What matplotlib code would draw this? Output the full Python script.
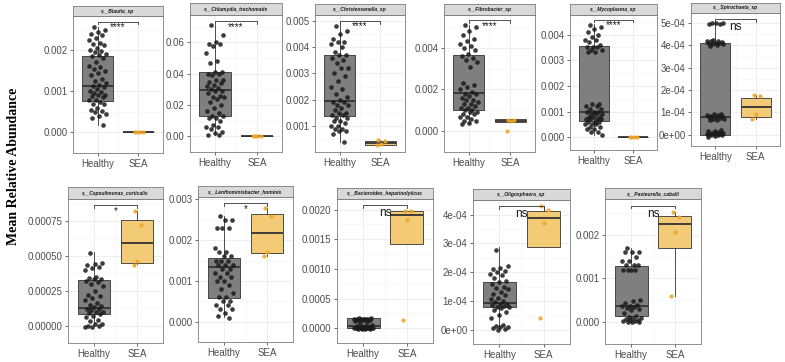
import matplotlib.pyplot as plt
import numpy as np

plt.rcParams['font.family'] = ['Liberation Sans', 'DejaVu Sans']

W, H = 785, 362
groups = ['Healthy', 'SEA']

species = ['s__Blautia_sp', 's__Chlamydia_trachomatis', 's__Christensenella_sp',
           's__Fibrobacter_sp', 's__Mycoplasma_sp', 's__Spirochaeta_sp',
           's__Capsulimonas_corticalis', 's__Lenthominisbacter_hominis',
           's__Bacteroides_heparinolyticus', 's__Oligosphaera_sp', 's__Pasteurella_caballi']
signif = ['****', '****', '****', '****', '****', 'ns', '*', '*', 'ns', 'ns', 'ns']
bracket_y = [0.00269, 0.0736, 0.0050, 0.00533, 0.00458, 5.18e-4,
             0.00086, 0.00291, 0.00207, 4.29e-4, 0.00267]

# jittered points
blautia_healthy = [0.00257, 0.00250, 0.00243, 0.00240, 0.00236, 0.00230, 0.00225, 0.00218, 0.00215,
                   0.00212, 0.00205, 0.00200, 0.00198, 0.00195, 0.00190, 0.00188, 0.00185, 0.00180,
                   0.00170, 0.00162, 0.00158, 0.00155, 0.00150, 0.00145, 0.00140, 0.00130, 0.00125,
                   0.00120, 0.00115, 0.00112, 0.00110, 0.00105, 0.00100, 0.00098, 0.00095, 0.00092,
                   0.00090, 0.00088, 0.00085, 0.00080, 0.00078, 0.00075, 0.00070, 0.00068, 0.00060,
                   0.00055, 0.00052, 0.00050, 0.00045, 0.00040, 0.00035, 0.00017]
blautia_sea = [0.0, 0.0, 0.0, 0.0]
chlamydia_healthy = [0.071, 0.065, 0.060, 0.059, 0.059, 0.058, 0.053, 0.048, 0.047, 0.041, 0.041, 0.040,
                     0.040, 0.039, 0.036, 0.036, 0.035, 0.034, 0.033, 0.032, 0.031, 0.030, 0.029, 0.029,
                     0.028, 0.026, 0.025, 0.025, 0.024, 0.022, 0.020, 0.018, 0.016, 0.015, 0.013, 0.013,
                     0.012, 0.012, 0.010, 0.007, 0.006, 0.006, 0.005, 0.003, 0.002, 0.001, 0.001]
chlamydia_sea = [0.0003, 0.0003, 0.0003, 0.0003]
christensenella_healthy = [0.0048, 0.0046, 0.0045, 0.0043, 0.0042, 0.0042, 0.0041, 0.0040, 0.0038, 0.0037,
                           0.0037, 0.0036, 0.0035, 0.0034, 0.0032, 0.0032, 0.0030, 0.0029, 0.0027, 0.0025,
                           0.0024, 0.0022, 0.0021, 0.0020, 0.0019, 0.0019, 0.0018, 0.0018, 0.0017, 0.0016,
                           0.0015, 0.0015, 0.0014, 0.0014, 0.0013, 0.0013, 0.0012, 0.0012, 0.0011, 0.0010,
                           0.0010, 0.0009, 0.0009, 0.0008, 0.0008, 0.0007, 0.0004]
christensenella_sea = [0.00047, 0.00042, 0.00033, 0.00028]
fibrobacter_healthy = [0.0051, 0.0050, 0.0048, 0.0046, 0.0044, 0.0043, 0.0042, 0.0041, 0.0040, 0.0039,
                       0.0037, 0.0036, 0.0035, 0.0034, 0.0033, 0.0031, 0.0023, 0.0022, 0.0021, 0.0020,
                       0.0019, 0.0018, 0.0018, 0.0017, 0.0016, 0.0015, 0.0015, 0.0014, 0.0013, 0.0013,
                       0.0012, 0.0011, 0.0011, 0.0010, 0.0010, 0.0009, 0.0009, 0.0008, 0.0008, 0.0007,
                       0.0007, 0.0006, 0.0005, 0.0005, 0.0004, 0.00035]
fibrobacter_sea = [0.00055, 0.00055, 0.00050, 0.00002]
mycoplasma_healthy = [0.00436, 0.0043, 0.0042, 0.0041, 0.0040, 0.0039, 0.0038, 0.0038, 0.0037, 0.0036,
                      0.0035, 0.0035, 0.0035, 0.0034, 0.0034, 0.0033, 0.0033,
                      0.0013, 0.0013, 0.0012, 0.0012, 0.0011, 0.0011, 0.0010, 0.0010, 0.0010, 0.0009,
                      0.0009, 0.0009, 0.0008, 0.0008, 0.0008, 0.0007, 0.0007, 0.0007, 0.0007, 0.0006,
                      0.0006, 0.0006, 0.0005, 0.0005, 0.0005, 0.0004, 0.0004, 0.0003, 0.0003, 0.0002,
                      0.0002, 0.0001]
mycoplasma_sea = [0.0, 0.0, 0.0, 0.0]
spirochaeta_healthy = [5.0e-4, 5.0e-4, 5.0e-4, 4.98e-4, 4.96e-4,
                       4.22e-4, 4.2e-4, 4.2e-4, 4.18e-4, 4.15e-4, 4.12e-4, 4.1e-4, 4.1e-4, 4.08e-4,
                       4.05e-4, 4.0e-4, 3.98e-4,
                       0.95e-4, 0.92e-4, 0.9e-4, 0.88e-4, 0.85e-4, 0.82e-4, 0.8e-4, 0.78e-4, 0.75e-4,
                       0.72e-4, 0.7e-4, 0.68e-4, 0.65e-4,
                       0.2e-4, 0.18e-4, 0.15e-4, 0.12e-4, 0.1e-4, 0.08e-4, 0.06e-4, 0.05e-4, 0.04e-4,
                       0.03e-4, 0.02e-4, 0.01e-4, 0.0, 0.0, -0.05e-4, -0.1e-4]
spirochaeta_sea = [1.78e-4, 1.72e-4, 0.95e-4, 0.72e-4]
capsulimonas_healthy = [0.00052, 0.00045, 0.00044, 0.00043, 0.00042, 0.00041, 0.00040, 0.00035, 0.00034,
                        0.00033, 0.00033, 0.00032, 0.00031, 0.00030, 0.00028, 0.00025, 0.00022, 0.00021,
                        0.00020, 0.00018, 0.00016, 0.00015, 0.00014, 0.00013, 0.00012, 0.00012, 0.00011,
                        0.00010, 0.00010, 0.00009, 0.00008, 0.00007, 0.00006, 0.00004, 0.00003, 0.00001,
                        0.00001, 0.0, 0.0, -0.00001, -0.00001]
capsulimonas_sea = [0.00082, 0.00072, 0.00046, 0.000435]
lenthominisbacter_healthy = [0.0026, 0.0025, 0.0025, 0.0023, 0.0023, 0.0023, 0.0018, 0.0017, 0.0017, 0.0016,
                             0.0016, 0.0015, 0.0015, 0.0015, 0.0014, 0.0014, 0.0014, 0.0013, 0.0013, 0.0012,
                             0.0012, 0.0011, 0.0011, 0.0010, 0.0010, 0.0009, 0.0008, 0.0007, 0.0006, 0.0006,
                             0.0005, 0.0005, 0.0004, 0.0004, 0.0003, 0.0003, 0.0002, 0.00015, 0.0001]
lenthominisbacter_sea = [0.0028, 0.0026, 0.0017, 0.0016]
bacteroides_healthy = [0.00017, 0.00017, 0.00016, 0.00016, 0.00016, 0.00015, 0.00015, 0.00015, 0.00014,
                       0.00014, 0.00013, 0.00012, 0.00010, 0.00008, 0.00005, 0.00004, 0.00003, 0.00002,
                       0.00002, 0.00001, 0.00001, 0.00001, 0.0, 0.0, 0.0, 0.0, 0.0, 0.0, -0.00001,
                       -0.00001, -0.00001, -0.00002]
bacteroides_sea = [0.00198, 0.00197, 0.00182, 0.00013]
oligosphaera_healthy = [2.76e-4, 2.2e-4, 2.15e-4, 2.1e-4, 2.05e-4, 2.0e-4, 1.95e-4, 1.9e-4, 1.8e-4, 1.7e-4,
                        1.65e-4, 1.6e-4, 1.5e-4, 1.45e-4, 1.4e-4, 1.3e-4, 1.25e-4, 1.2e-4, 1.1e-4, 1.05e-4,
                        1.0e-4, 0.95e-4, 0.9e-4, 0.88e-4, 0.85e-4, 0.82e-4, 0.8e-4, 0.8e-4, 0.75e-4,
                        0.7e-4, 0.6e-4, 0.5e-4, 0.4e-4, 0.15e-4, 0.12e-4, 0.1e-4, 0.08e-4, 0.05e-4,
                        0.02e-4, 0.0]
oligosphaera_sea = [4.3e-4, 4.17e-4, 3.7e-4, 0.4e-4]
pasteurella_healthy = [0.0017, 0.0016, 0.0016, 0.0016, 0.0015, 0.0014, 0.0014, 0.0013, 0.0013, 0.0013,
                       0.0012, 0.0012, 0.0012, 0.0012, 0.00050, 0.00048, 0.00045, 0.00040, 0.00038,
                       0.00036, 0.00035, 0.00033, 0.00030, 0.00028, 0.00020, 0.00015, 0.00012, 0.00010,
                       0.00010, 0.00008, 0.00006, 0.00005, 0.00003, 0.00002, 0.00001, 0.0, 0.0]
pasteurella_sea = [0.00253, 0.0024, 0.00207, 0.00061]

# box stats: [whisker low, q1, median, q3, whisker high]
box_healthy = [[0.00017, 0.00077, 0.001135, 0.001855, 0.00257],
               [0.0006, 0.0129, 0.0294, 0.0408, 0.071],
               [0.00039, 0.00137, 0.00195, 0.00369, 0.0049],
               [0.00036, 0.0010, 0.00183, 0.00367, 0.0051],
               [0.0001, 0.00064, 0.00097, 0.00356, 0.0044],
               [0.0, 0.0, 0.8e-4, 4.09e-4, 5.0e-4],
               [0.0, 0.00008, 0.000125, 0.000328, 0.000523],
               [0.00011, 0.00059, 0.00135, 0.00157, 0.0026],
               [0.0, 0.0, 0.00003, 0.000175, 0.00018],
               [0.05e-4, 0.8e-4, 0.91e-4, 1.64e-4, 2.86e-4],
               [0.0, 0.00013, 0.00037, 0.00129, 0.0017]]
box_sea = [[0.0, 0.0, 0.0, 0.0, 0.0],
           [0.0003, 0.0003, 0.0003, 0.0003, 0.0003],
           [0.00028, 0.00029, 0.00035, 0.00041, 0.00047],
           [0.00043, 0.00043, 0.0005, 0.0006, 0.0006],
           [0.0, 0.0, 0.0, 0.0, 0.0],
           [0.72e-4, 0.80e-4, 1.23e-4, 1.64e-4, 1.78e-4],
           [0.000436, 0.000447, 0.000592, 0.000757, 0.00082],
           [0.0016, 0.00169, 0.00217, 0.00265, 0.00279],
           [0.00142, 0.00142, 0.00191, 0.00197, 0.00198],
           [2.86e-4, 2.86e-4, 3.88e-4, 4.11e-4, 4.3e-4],
           [0.00061, 0.0017, 0.00224, 0.00244, 0.00253]]

healthy_pts = [blautia_healthy, chlamydia_healthy, christensenella_healthy, fibrobacter_healthy,
               mycoplasma_healthy, spirochaeta_healthy, capsulimonas_healthy, lenthominisbacter_healthy,
               bacteroides_healthy, oligosphaera_healthy, pasteurella_healthy]
sea_pts = [blautia_sea, chlamydia_sea, christensenella_sea, fibrobacter_sea, mycoplasma_sea,
           spirochaeta_sea, capsulimonas_sea, lenthominisbacter_sea, bacteroides_sea,
           oligosphaera_sea, pasteurella_sea]

yticks = [[0.0, 0.001, 0.002], [0.0, 0.02, 0.04, 0.06], [0.001, 0.002, 0.003, 0.004, 0.005],
          [0.0, 0.002, 0.004], [0.0, 0.001, 0.002, 0.003, 0.004],
          [0.0, 1e-4, 2e-4, 3e-4, 4e-4, 5e-4], [0.0, 0.00025, 0.0005, 0.00075],
          [0.0, 0.001, 0.002, 0.003], [0.0, 0.0005, 0.001, 0.0015, 0.002],
          [0.0, 1e-4, 2e-4, 3e-4, 4e-4], [0.0, 0.001, 0.002]]
ytick_labels = [['0.000', '0.001', '0.002'], ['0.00', '0.02', '0.04', '0.06'],
                ['0.001', '0.002', '0.003', '0.004', '0.005'], ['0.000', '0.002', '0.004'],
                ['0.000', '0.001', '0.002', '0.003', '0.004'],
                ['0e+00', '1e-04', '2e-04', '3e-04', '4e-04', '5e-04'],
                ['0.00000', '0.00025', '0.00050', '0.00075'], ['0.000', '0.001', '0.002', '0.003'],
                ['0.0000', '0.0005', '0.0010', '0.0015', '0.0020'],
                ['0e+00', '1e-04', '2e-04', '3e-04', '4e-04'], ['0.000', '0.001', '0.002']]
ylims = [(-0.00015, 0.00283), (-0.0042, 0.0775), (0.00001, 0.00522), (-0.0003, 0.00557),
         (-0.00022, 0.00476), (-0.38e-4, 5.45e-4), (-0.000058, 0.000904), (-0.00002, 0.00306),
         (-0.000116, 0.002177), (-0.3e-4, 4.51e-4), (-0.000137, 0.00282)]

# panel layout in pixels: left, right, panel top, panel bottom, strip top
layout = [(73, 163, 16, 153, 6), (190, 282, 15, 152, 3), (315, 405, 15, 152, 4),
          (444, 535, 15, 152, 4), (570, 657, 15, 150, 4), (691, 780, 13, 146, 3),
          (68, 163, 199, 343, 187), (198, 293, 197, 342, 186), (337, 433, 199, 343, 188),
          (473, 570, 200, 344, 189), (605, 701, 199, 344, 188)]

box_fill = ['#7F7F7F', '#F3CB77']
pt_color = ['#1A1A1A', '#EFA626']
border = '#7F7F7F'


def jitter(n, width):
    return width * (((np.arange(n) * 0.618034 + 0.3) % 1) * 2 - 1)


fig = plt.figure(figsize=(W / 100, H / 100), dpi=100)

for i, (x0, x1, yt, yb, st) in enumerate(layout):
    ax = fig.add_axes([x0 / W, 1 - yb / H, (x1 - x0) / W, (yb - yt) / H])

    stats = []
    for b in (box_healthy[i], box_sea[i]):
        stats.append(dict(whislo=b[0], q1=b[1], med=b[2], q3=b[3], whishi=b[4]))
    bp = ax.bxp(stats, positions=[1, 2], widths=0.75, showcaps=False, showfliers=False,
                patch_artist=True, manage_ticks=False,
                boxprops=dict(edgecolor='#333333', linewidth=0.6),
                whiskerprops=dict(color='#333333', linewidth=0.6),
                medianprops=dict(color='#333333', linewidth=1.3))
    for patch, c in zip(bp['boxes'], box_fill):
        patch.set_facecolor(c)
        patch.set_zorder(2)

    hp = healthy_pts[i]
    ax.scatter(1 + jitter(len(hp), 0.22), hp, s=11, color=pt_color[0], alpha=0.85,
               linewidths=0, zorder=3)
    sp_ = sea_pts[i]
    ax.scatter(2 + jitter(len(sp_), 0.12), sp_, s=9, color=pt_color[1], alpha=0.9,
               linewidths=0, zorder=3)

    ax.set_xlim(0.4, 2.6)
    ax.set_ylim(*ylims[i])
    ax.set_yticks(yticks[i])
    ax.set_yticklabels(ytick_labels[i])
    step = yticks[i][1] - yticks[i][0]
    ax.set_yticks(np.arange(yticks[i][0] - step / 2, ylims[i][1], step), minor=True)
    ax.set_xticks([1, 2])
    ax.set_xticklabels(groups)
    ax.set_xticks([1.5], minor=True)
    ax.grid(which='major', color='#EBEBEB', lw=0.6, zorder=0)
    ax.grid(which='minor', color='#F3F3F3', lw=0.4, zorder=0)
    ax.set_axisbelow(True)
    ax.tick_params(which='major', labelsize=7, labelcolor='#4D4D4D', color='#333333',
                   length=2.5, width=0.5, pad=1.5)
    ax.tick_params(which='minor', length=0)
    for sp in ax.spines.values():
        sp.set_color(border)
        sp.set_linewidth(0.6)

    # significance bracket
    yr = ylims[i][1] - ylims[i][0]
    by = bracket_y[i]
    tip = 0.022 * yr
    ax.plot([1, 1, 2, 2], [by - tip, by, by, by - tip], color='#333333', lw=0.6, zorder=4)
    if signif[i] == 'ns':
        ax.annotate('ns', (1.5, by), xytext=(0, -1.5), textcoords='offset points',
                    ha='center', va='top', fontsize=8.5, color='#1A1A1A', zorder=5)
    else:
        ax.annotate(signif[i], (1.5, by), xytext=(0, -0.5), textcoords='offset points',
                    ha='center', va='top', fontsize=7, color='#1A1A1A', zorder=5)

    # facet strip
    sx = fig.add_axes([x0 / W, 1 - yt / H, (x1 - x0) / W, (yt - st) / H])
    sx.set_facecolor('#D9D9D9')
    sx.set_xticks([])
    sx.set_yticks([])
    for sp in sx.spines.values():
        sp.set_color(border)
        sp.set_linewidth(0.6)
    sx.text(0.5, 0.5, species[i], ha='center', va='center', fontsize=3.6,
            fontweight='bold', fontstyle='italic', color='#1A1A1A')

fig.text(14 / W, 1 - 166 / H, 'Mean Relative Abundance', rotation=90, ha='center',
         va='center', fontsize=10, fontweight='bold', family='Liberation Serif')

fig.savefig('out.png', dpi=100)
